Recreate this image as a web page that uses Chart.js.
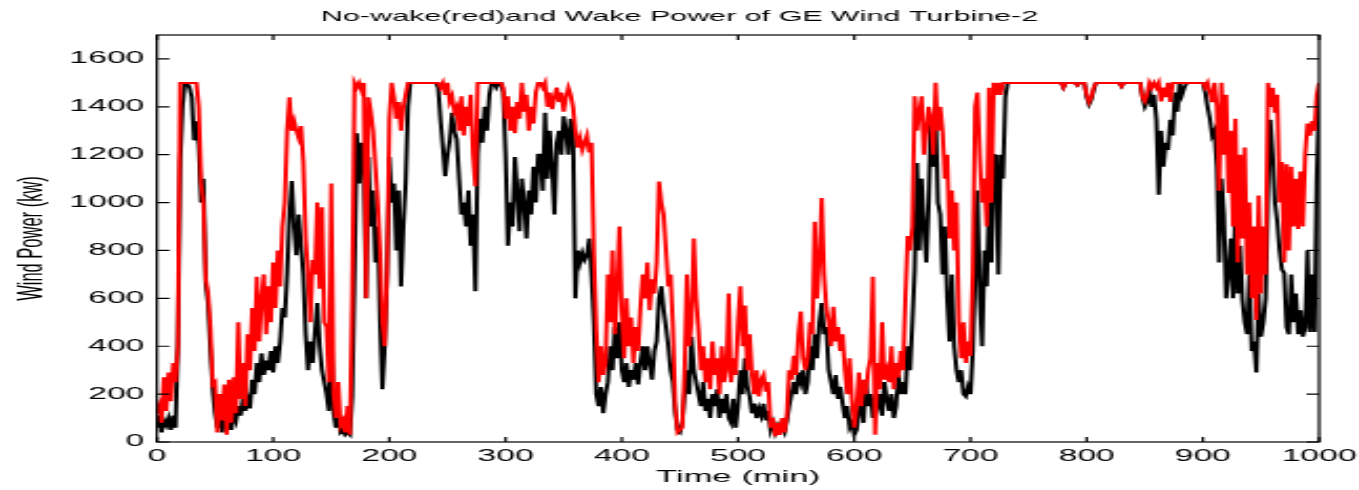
<!DOCTYPE html>
<html>
<head>
<meta charset="utf-8">
<title>No-wake and Wake Power of GE Wind Turbine-2</title>
<script src="https://cdn.jsdelivr.net/npm/chart.js@4.4.1/dist/chart.umd.min.js"></script>
<style>
    html, body { margin: 0; padding: 0; background: #fff; overflow: hidden; }
    #powerChart { display: block; }
</style>
</head>
<body>
<!-- drawn narrow and stretched sideways, like the original figure -->
<canvas id="powerChart" width="647" height="490" style="width:1359px;height:490px"></canvas>
<script>
const timeStepMin = 2;
const xTickValues = [0, 100, 200, 300, 400, 500, 600, 700, 800, 900, 1000];
const yTickValues = [0, 200, 400, 600, 800, 1000, 1200, 1400, 1600];

// no-wake power (red), one value every 2 minutes, 0..1000 min
const noWakePower = [
    120,150,80,270,130,290,170,330,250,400,      1500,1500,1500,1500,1500,1500,1500,1500,1400,1080,
    1000,680,620,480,240,250,40,200,90,240,      30,260,80,270,120,500,180,330,150,450,
    300,560,380,690,420,600,700,450,650,500,     750,560,800,650,900,1000,1300,1440,1300,1340,
    1300,1270,1320,1170,850,700,500,760,700,1000, 640,980,500,480,250,1080,200,100,250,70,
    90,40,150,30,600,1500,1480,1500,1470,1500,   600,1440,1380,1300,1150,1000,800,500,400,700,
    1350,1500,1440,1350,1420,1300,1400,1450,1500,1500, 1500,1500,1500,1500,1500,1500,1500,1500,1500,1500,
    1500,1500,1480,1500,1450,1500,1420,1444,1380,1400, 1300,1444,1280,1400,1320,1450,1200,1068,1500,1500,
    1500,1500,1500,1500,1500,1500,1500,1500,1500,1480, 1350,1444,1300,1400,1290,1420,1350,1500,1380,1450,
    1300,1400,1330,1460,1500,1500,1480,1500,1400,1460, 1390,1440,1480,1420,1460,1380,1440,1480,1450,1400,
    1300,1230,1270,1220,1250,1280,1210,1250,780,470, 250,400,280,330,700,500,800,450,650,900,
    550,350,600,400,520,330,480,380,560,700,     600,750,550,680,620,750,1088,1000,950,800,
    650,700,480,150,40,50,60,300,700,400,        500,850,600,470,300,400,250,350,220,420,
    280,350,200,400,250,300,620,250,350,280,     500,650,400,570,300,450,280,200,300,190,
    260,280,210,250,60,100,24,80,30,100,         40,110,300,260,360,280,450,545,350,300,
    350,500,450,920,600,750,1019,700,560,500,    400,565,420,480,380,450,300,200,350,180,
    60,150,290,150,260,200,300,350,690,30,       330,220,500,260,300,250,400,220,330,270,
    380,300,600,860,800,900,1444,1300,1380,1444, 1200,1300,1400,1350,1200,1500,1300,1400,1300,1100,
    1200,850,1050,800,1000,500,350,500,330,420,  360,700,1400,1460,1200,1000,1100,900,1480,1000,
    1500,1450,1500,1450,1500,1500,1500,1500,1500,1500, 1500,1500,1500,1500,1500,1500,1500,1500,1500,1500,
    1500,1500,1500,1500,1500,1500,1500,1500,1500,1500, 1480,1500,1500,1500,1500,1500,1490,1500,1500,1500,
    1450,1420,1440,1480,1500,1500,1500,1500,1500,1500, 1500,1500,1500,1500,1500,1485,1500,1500,1500,1500,
    1500,1500,1500,1500,1440,1423,1450,1500,1480,1500, 1480,1500,1423,1480,1440,1500,1420,1500,1500,1500,
    1500,1500,1500,1500,1500,1500,1500,1500,1500,1500, 1500,1480,1500,1460,1420,1500,1400,1050,1500,1200,
    1450,1040,1300,900,1350,750,1200,850,1230,700, 1000,600,900,510,1030,620,900,700,1500,1400,
    1480,1375,1450,1000,1170,750,1160,800,1150,900, 1100,890,1130,900,1200,1330,1280,1340,1300,1450,
    1500
];

// wake power (black)
const wakePower = [
    60,110,40,90,70,100,50,110,60,410,           1170,1400,1500,1500,1480,1440,1260,1340,1240,1000,
    1100,660,580,390,220,120,60,140,40,110,      70,130,50,120,90,150,110,180,130,180,
    140,260,200,330,250,370,280,340,300,380,     290,400,330,420,560,520,700,950,1090,900,
    780,950,820,700,450,300,420,330,460,580,     400,300,250,200,130,460,120,60,100,40,
    50,30,40,30,190,700,1290,1080,1250,1150,     600,1190,900,1050,750,900,500,220,400,690,
    1190,1000,1080,800,1050,650,900,1080,1400,1500, 1500,1500,1500,1500,1500,1500,1500,1500,1500,1500,
    1500,1480,1346,1235,1110,1200,1260,1375,1300,1263, 1100,950,1000,900,1050,820,950,630,1200,1350,
    1250,1400,1300,1450,1500,1500,1480,1500,1500,1460, 1200,820,1000,900,1190,1050,880,1100,1000,850,
    1050,950,1150,1000,1200,1200,1050,1375,1100,1300, 1150,950,1250,1300,1200,1360,1300,1200,1350,1300,
    600,800,750,790,760,780,850,700,500,200,     150,230,120,200,250,400,300,480,350,500,
    300,250,330,230,300,260,330,240,330,400,     300,400,330,260,380,420,600,650,550,480,
    400,300,250,120,50,40,80,200,300,200,        440,300,250,200,150,250,130,180,100,200,
    150,220,100,180,120,200,100,80,180,60,       150,300,200,350,230,190,120,160,100,140,
    110,160,90,130,50,80,40,70,50,60,            40,90,150,200,250,200,290,250,300,200,
    250,400,300,450,350,500,580,450,480,300,     250,200,280,180,230,160,100,150,60,80,
    30,50,120,200,80,260,150,200,100,180,        150,200,110,250,180,130,200,100,150,280,
    200,250,200,400,300,500,720,1165,800,1100,   900,750,1000,1350,1150,1400,1000,950,700,900,
    600,420,700,400,300,250,300,200,190,230,     200,380,700,1050,600,400,800,650,1000,750,
    1200,1197,700,1200,1100,1440,1500,1500,1500,1500, 1500,1500,1500,1500,1500,1500,1500,1500,1500,1500,
    1500,1500,1500,1500,1500,1500,1500,1500,1500,1500, 1480,1500,1500,1500,1500,1500,1490,1500,1500,1500,
    1440,1410,1430,1470,1500,1500,1500,1500,1500,1500, 1500,1500,1500,1500,1500,1485,1500,1500,1500,1500,
    1500,1500,1500,1500,1440,1400,1420,1480,1400,1450, 1346,1033,1300,1150,1250,1220,1346,1280,1460,1380,
    1500,1450,1480,1500,1500,1500,1500,1500,1500,1500, 1500,1460,1400,1350,1280,1300,1150,750,1100,950,
    600,700,850,600,1000,620,820,594,500,450,    700,380,420,290,620,440,500,600,1050,1346,
    1200,1000,920,800,720,705,480,450,700,500,   620,450,550,440,480,800,460,700,460,1100,
    1450
];

const fontFamily = "'Liberation Sans', Arial, Helvetica, sans-serif";
const textColor = '#000';

function toPoints(values) {
    return values.map((v, i) => ({ x: i * timeStepMin, y: v }));
}

// box round the axes with inward ticks on all four sides
const matlabAxes = {
    id: 'matlabAxes',
    afterDatasetsDraw(chart) {
        const { ctx, chartArea: a, scales: { x, y } } = chart;
        ctx.save();
        ctx.strokeStyle = '#000';
        ctx.lineWidth = 1.2;
        ctx.strokeRect(a.left, a.top, a.right - a.left, a.bottom - a.top);
        ctx.beginPath();
        xTickValues.forEach(v => {
            const px = x.getPixelForValue(v);
            ctx.moveTo(px, a.bottom); ctx.lineTo(px, a.bottom - 5);
            ctx.moveTo(px, a.top); ctx.lineTo(px, a.top + 5);
        });
        yTickValues.forEach(v => {
            const py = y.getPixelForValue(v);
            ctx.moveTo(a.left, py); ctx.lineTo(a.left + 6, py);
            ctx.moveTo(a.right, py); ctx.lineTo(a.right - 6, py);
        });
        ctx.stroke();
        ctx.restore();
    }
};

const ctx = document.getElementById('powerChart').getContext('2d');

new Chart(ctx, {
    type: 'line',
    data: {
        datasets: [{
            label: 'No-wake',
            data: toPoints(noWakePower),
            borderColor: '#ff0000',
            borderWidth: 2,
            pointRadius: 0,
            tension: 0
        }, {
            label: 'Wake',
            data: toPoints(wakePower),
            borderColor: '#000000',
            borderWidth: 2,
            pointRadius: 0,
            tension: 0
        }]
    },
    options: {
        responsive: false,
        animation: false,
        devicePixelRatio: 1,
        layout: { padding: { left: 19, right: 19, top: 0, bottom: 0 } },
        plugins: {
            legend: { display: false },
            tooltip: { enabled: false },
            title: {
                display: true,
                text: 'No-wake(red)and Wake Power of GE Wind Turbine-2',
                color: textColor,
                font: { family: fontFamily, size: 14.5, weight: 'normal' },
                padding: { top: 8.5, bottom: 9.1 }
            }
        },
        scales: {
            x: {
                type: 'linear',
                min: 0,
                max: 1000,
                grid: { display: false, drawTicks: false },
                border: { display: false },
                afterBuildTicks: scale => { scale.ticks = xTickValues.map(v => ({ value: v })); },
                afterFit: scale => {
                    scale.height = 48;
                    scale.paddingLeft = 0;
                    scale.paddingRight = 0;
                },
                ticks: {
                    color: textColor,
                    padding: 5,
                    maxRotation: 0,
                    autoSkip: false,
                    font: { family: fontFamily, size: 16 },
                    callback: value => String(value)
                },
                title: {
                    display: true,
                    text: 'Time (min)',
                    color: textColor,
                    font: { family: fontFamily, size: 16.5 },
                    padding: { top: 0, bottom: 3 }
                }
            },
            y: {
                min: 0,
                max: 1700,
                grid: { display: false, drawTicks: false },
                border: { display: false },
                afterBuildTicks: scale => { scale.ticks = yTickValues.map(v => ({ value: v })); },
                afterFit: scale => {
                    scale.width = 55.7;
                    scale.paddingTop = 0;
                    scale.paddingBottom = 0;
                },
                ticks: {
                    color: textColor,
                    padding: 6,
                    autoSkip: false,
                    font: { family: fontFamily, size: 16 },
                    callback: value => String(value)
                },
                title: {
                    display: true,
                    text: 'Wind Power (kw)',
                    color: textColor,
                    font: { family: fontFamily, size: 16.5 },
                    padding: { top: -13, bottom: 0 }
                }
            }
        }
    },
    plugins: [matlabAxes]
});
</script>
</body>
</html>
